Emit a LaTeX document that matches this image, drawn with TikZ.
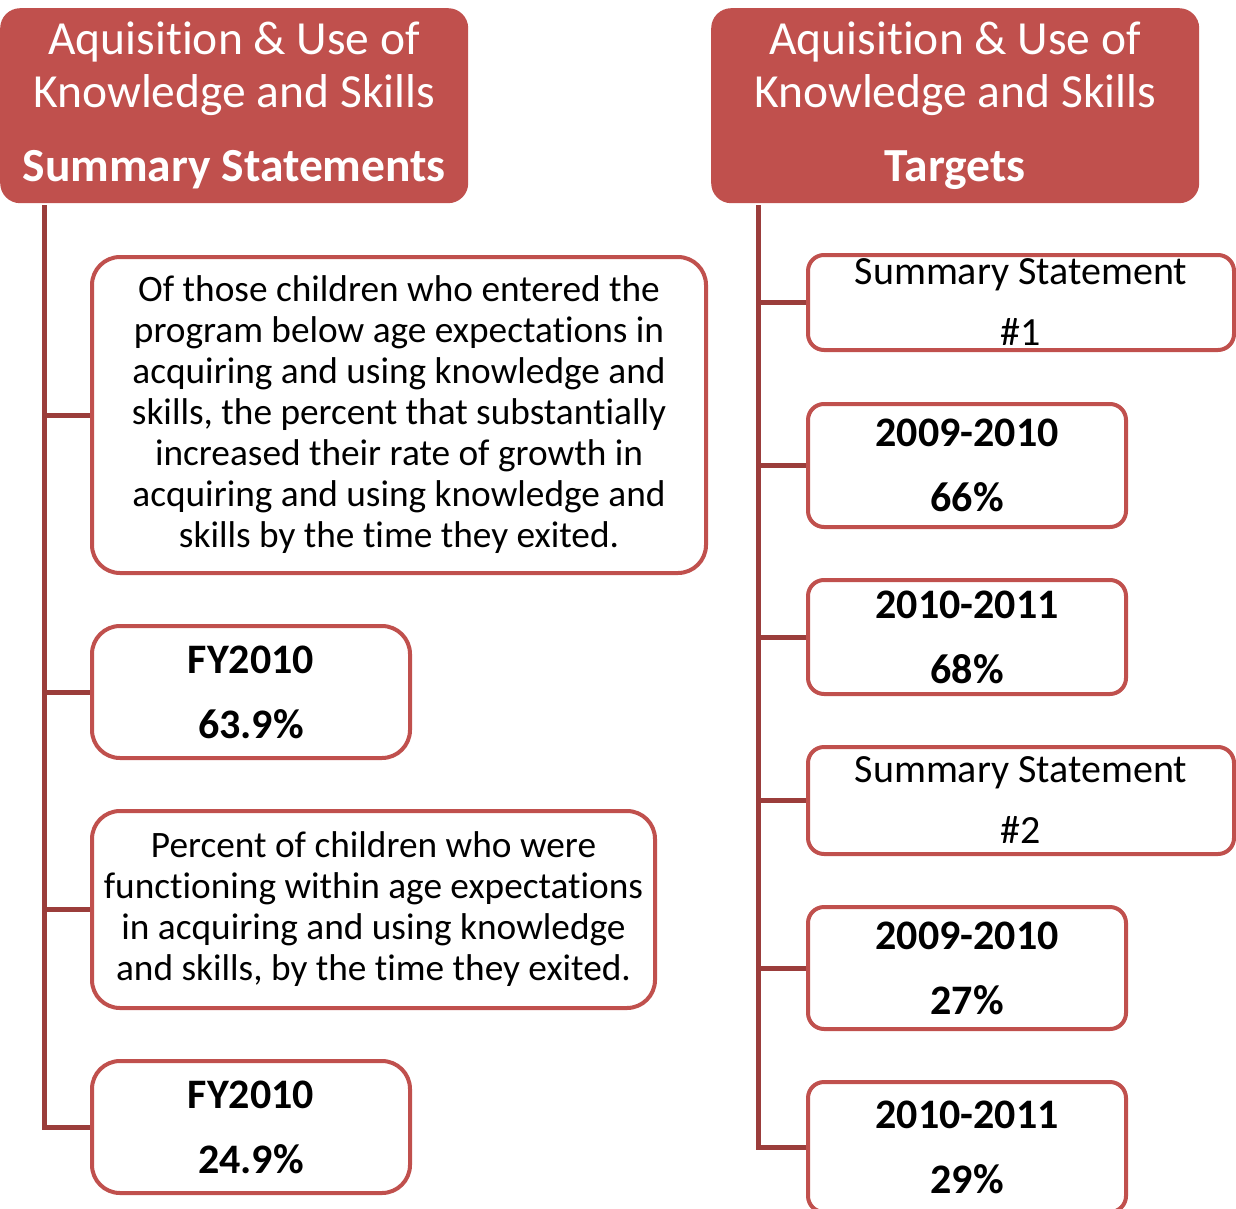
\documentclass[tikz,border=0pt]{standalone}
\usepackage{fontspec}
\setmainfont{Carlito}[Ligatures=NoCommon]
\usepackage{tikz}
\definecolor{hdred}{HTML}{C0504D}
\definecolor{trunkred}{HTML}{9B3D3B}

\begin{document}
\begin{tikzpicture}[x=1pt, y=-1pt,
        head/.style = {fill=hdred, text=white, rounded corners=20pt, anchor=north west, inner sep=0pt, align=center, font=\fontsize{47.5}{53}\selectfont},
        card/.style = {draw=hdred, fill=white, line width=4pt, rounded corners=28pt, anchor=north west, inner sep=0pt, align=center, font=\fontsize{37.3}{41}\selectfont},
        val/.style = {card, font=\bfseries\fontsize{42}{65}\selectfont},
        tcard/.style = {card, rounded corners=16pt, font=\fontsize{40}{61}\selectfont},
        tval/.style = {val, rounded corners=16pt},
        trunk/.style = {draw=trunkred, line width=5pt}]
        \useasboundingbox (0,0) rectangle (1236,1209);
        % left column
        \node[head, minimum width=468pt, minimum height=195pt] (h1) at (0,8) {Aquisition \& Use of\\Knowledge and Skills\\[21pt]\textbf{Summary Statements}};
        \node[card, minimum width=614pt, minimum height=316pt] (1) at (90,255) {Of those children who entered the\\program below age expectations in\\acquiring and using knowledge and\\skills, the percent that substantially\\increased their rate of growth in\\acquiring and using knowledge and\\skills by the time they exited.};
        \node[val, minimum width=318pt, minimum height=132pt] (2) at (90,624) {FY2010\\63.9\%};
        \node[card, minimum width=563pt, minimum height=197pt] (3) at (90,809) {Percent of children who were\\functioning within age expectations\\in acquiring and using knowledge\\and skills, by the time they exited.};
        \node[val, minimum width=318pt, minimum height=132pt] (4) at (90,1059) {FY2010\\24.9\%};
        % right column
        \node[head, minimum width=488pt, minimum height=195pt] (h2) at (711,8) {Aquisition \& Use of\\Knowledge and Skills\\[21pt]\textbf{Targets}};
        \node[tcard, minimum width=426pt, minimum height=95pt] (5) at (806,253) {Summary Statement\\\#1};
        \node[tval, minimum width=318pt, minimum height=123pt] (6) at (806,402) {2009-2010\\66\%};
        \node[tval, minimum width=318pt, minimum height=114pt] (7) at (806,578) {2010-2011\\68\%};
        \node[tcard, minimum width=426pt, minimum height=107pt] (8) at (806,745) {Summary Statement\\\#2};
        \node[tval, minimum width=318pt, minimum height=122pt] (9) at (806,905) {2009-2010\\27\%};
        \node[tval, minimum width=318pt, minimum height=130pt] (10) at (806,1080) {2010-2011\\29\%};
        % trunks
        \coordinate (t1) at (44,205);
        \coordinate (t2) at (758,205);
        \draw[trunk] (t1) |- (4.west);
        \foreach \n in {1,2,3}
            \draw[trunk] (t1 |- \n.west) -- (\n.west);
        \draw[trunk] (t2) |- (10.west);
        \foreach \n in {5,6,7,8,9}
            \draw[trunk] (t2 |- \n.west) -- (\n.west);
    \end{tikzpicture}
\end{document}
